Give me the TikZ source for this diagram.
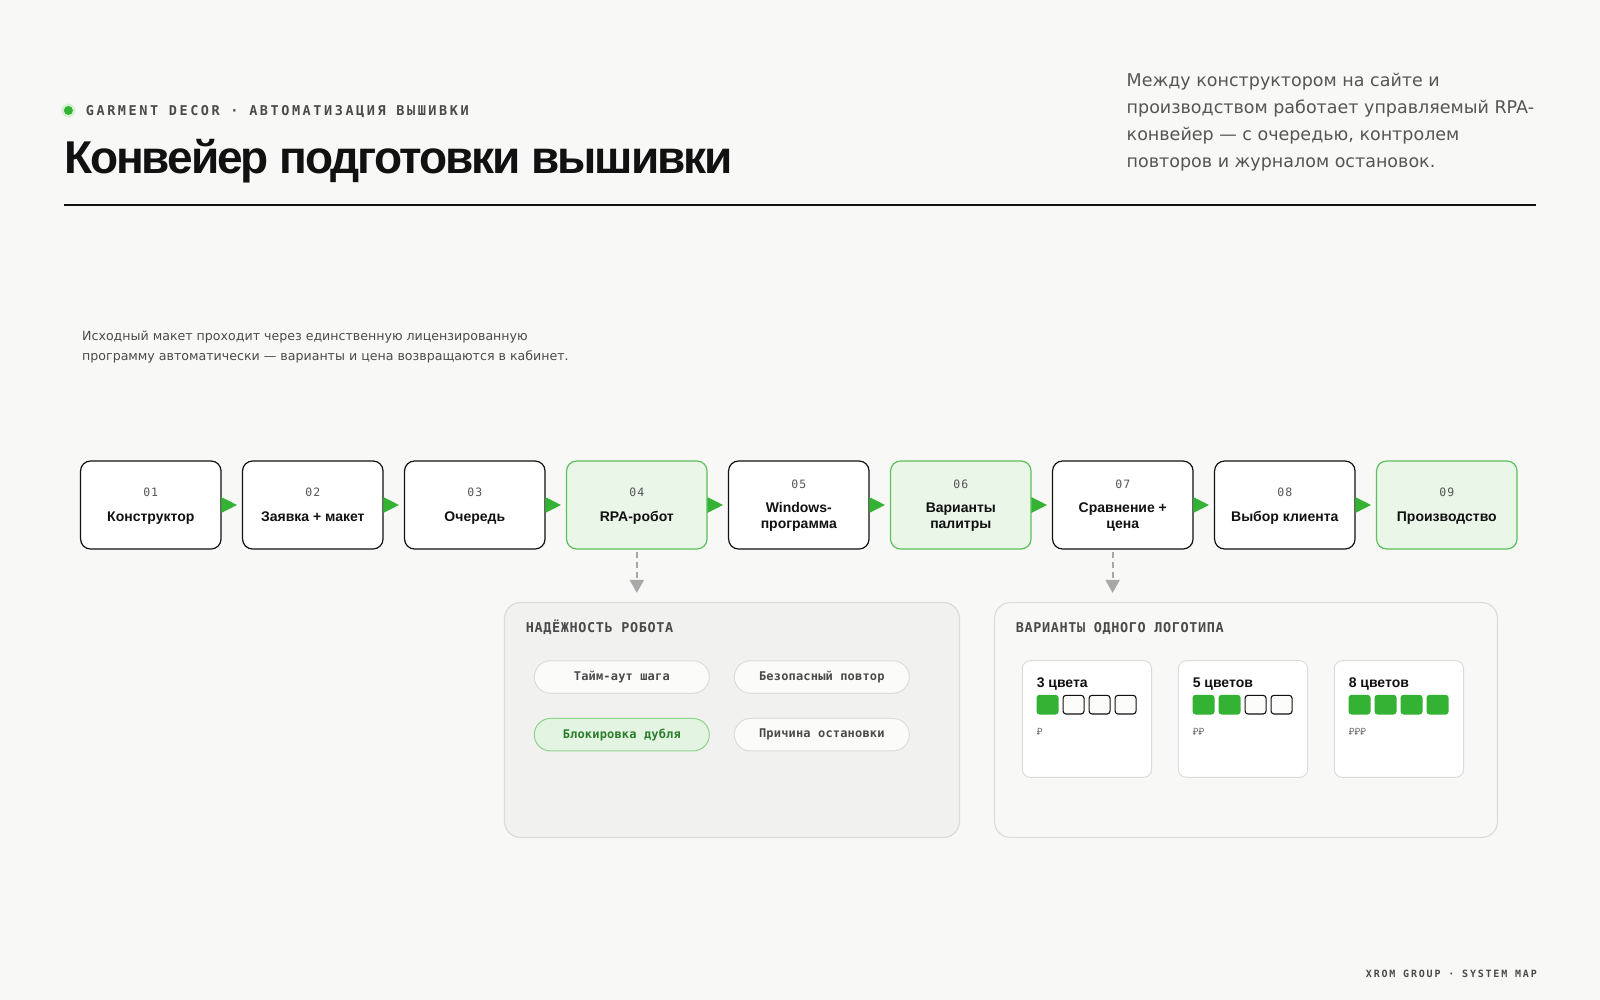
\documentclass[tikz,border=0pt]{standalone}
\usepackage{fontspec}
\setmainfont{Liberation Sans}
\newfontfamily\titlefont[LetterSpace=-4.5]{Liberation Sans}
\newfontfamily\bodyfont{DejaVu Sans}
\newfontfamily\kickfont[LetterSpace=19]{DejaVu Sans Mono}
\newfontfamily\panelfont[LetterSpace=4.5]{DejaVu Sans Mono}
\newfontfamily\numfont[LetterSpace=8]{DejaVu Sans Mono}
\newfontfamily\pillfont[LetterSpace=1.5]{DejaVu Sans Mono}
\newfontfamily\footfont[LetterSpace=18]{DejaVu Sans Mono}
\newfontfamily\rubfont{Noto Sans}
\usetikzlibrary{arrows.meta,calc}
\definecolor{bgc}{HTML}{F8F8F6}
\definecolor{ink}{HTML}{111111}
\definecolor{txtgray}{HTML}{4A4A4A}
\definecolor{bodygray}{HTML}{555555}
\definecolor{gGreen}{HTML}{34B233}
\definecolor{gHalo}{HTML}{D6F0D4}
\definecolor{gBorder}{HTML}{5CC05A}
\definecolor{gFill}{HTML}{E9F6E8}
\definecolor{pBorder}{HTML}{8FD38A}
\definecolor{pFill}{HTML}{E4F4E2}
\definecolor{pText}{HTML}{2B7D2B}
\definecolor{lineGray}{HTML}{DCDCDA}
\definecolor{panelFill}{HTML}{F1F1F0}
\definecolor{arrGray}{HTML}{A8A8A8}
\definecolor{priceGray}{HTML}{777777}
\newcommand{\stepone}[5]{%
  \node[#3] (#1) at (#2,505) {};
  \node[numlbl, anchor=base] (#1n) at ($(#1.center)+(0,-8.1)$) {#4};
  \node[steplbl, anchor=base] (#1t) at ($(#1.center)+(0,16)$) {#5};
}
\newcommand{\steptwo}[6]{%
  \node[#3] (#1) at (#2,505) {};
  \node[numlbl, anchor=base] (#1n) at ($(#1.center)+(0,-16.5)$) {#4};
  \node[steplbl, anchor=base] (#1t) at ($(#1.center)+(0,7.6)$) {#5};
  \node[steplbl, anchor=base] (#1u) at ($(#1.center)+(0,23)$) {#6};
}
\begin{document}
\begin{tikzpicture}[x=1pt,y=-1pt,
  stepbox/.style={draw=ink, line width=1.2pt, rounded corners=10pt, fill=white,
    minimum width=140.5pt, minimum height=88pt, inner sep=0pt},
  stepgreen/.style={stepbox, draw=gBorder, fill=gFill},
  numlbl/.style={inner sep=0pt, font=\numfont\fontsize{11.5}{13}\selectfont, text=bodygray},
  steplbl/.style={inner sep=0pt, font=\bfseries\fontsize{14}{16}\selectfont, text=ink},
  flow/.style={draw=gGreen, line width=0.8pt, -{Triangle[length=15.5pt,width=15.5pt]}, shorten >=5pt},
  dasharrow/.style={draw=arrGray, line width=2pt, dash pattern=on 6pt off 4pt,
    -{Triangle[length=13pt,width=14pt]}, shorten >=9pt, shorten <=2pt},
  panel/.style={draw=lineGray, line width=1.2pt, rounded corners=16pt, inner sep=0pt},
  paneltitle/.style={inner sep=0pt, anchor=base west, font=\panelfont\bfseries\fontsize{13.5}{15}\selectfont, text=txtgray},
  pill/.style={draw=lineGray, line width=1pt, fill=bgc!60!white, rounded corners=16.25pt,
    minimum width=175pt, minimum height=32.5pt, inner sep=0pt,
    font=\pillfont\bfseries\fontsize{12}{14}\selectfont, text=txtgray},
  pillgreen/.style={pill, draw=pBorder, fill=pFill, text=pText},
  card/.style={draw=lineGray, line width=1pt, fill=white, rounded corners=8pt,
    minimum width=129.3pt, minimum height=116.7pt, inner sep=0pt},
  cardlbl/.style={inner sep=0pt, anchor=base west, font=\bfseries\fontsize{14}{16}\selectfont, text=ink},
  swfull/.style={fill=gGreen, rounded corners=3pt, minimum width=22pt, minimum height=19.7pt, inner sep=0pt},
  swempty/.style={draw=ink, line width=1.1pt, fill=white!60!bgc, rounded corners=3pt,
    minimum width=21pt, minimum height=18.7pt, inner sep=0pt},
  pricelbl/.style={inner sep=0pt, anchor=base west, font=\rubfont\fontsize{10}{12}\selectfont, text=priceGray},
  bodyline/.style={inner sep=0pt, anchor=base west, font=\bodyfont\fontsize{17.5}{20}\selectfont, text=bodygray},
  descline/.style={inner sep=0pt, anchor=base west, font=\bodyfont\fontsize{12.6}{15}\selectfont, text=txtgray}
]
\path[fill=bgc, use as bounding box] (0,0) rectangle (1600,1000);

% header
\node[circle, fill=gHalo, minimum size=14pt, inner sep=0pt] (halo) at (68.4,110.5) {};
\node[circle, fill=gGreen, minimum size=9pt, inner sep=0pt] (dot) at (68.4,110.5) {};
\node[inner sep=0pt, anchor=base west, font=\kickfont\bfseries\fontsize{13.5}{15}\selectfont, text=txtgray]
  (kicker) at (85.7,116) {GARMENT DECOR · АВТОМАТИЗАЦИЯ ВЫШИВКИ};
\node[inner sep=0pt, anchor=base west, font=\titlefont\bfseries\fontsize{46}{50}\selectfont, text=ink]
  (title) at (64,173.5) {Конвейер подготовки вышивки};

\node[bodyline] (r1) at (1126.5,86.7) {Между конструктором на сайте и};
\node[bodyline] (r2) at (1126.5,113.6) {производством работает управляемый RPA-};
\node[bodyline] (r3) at (1126.5,140.5) {конвейер — с очередью, контролем};
\node[bodyline] (r4) at (1126.5,167.4) {повторов и журналом остановок.};

\coordinate (ruleL) at (64.3,205);
\coordinate (ruleR) at (1535.7,205);
\draw[ink, line width=1.3pt] (ruleL) -- (ruleR);

\node[descline] (d1) at (82,340.7) {Исходный макет проходит через единственную лицензированную};
\node[descline] (d2) at (82,360) {программу автоматически — варианты и цена возвращаются в кабинет.};

% steps
\stepone{b1}{150.8}{stepbox}{01}{Конструктор}
\stepone{b2}{312.8}{stepbox}{02}{Заявка + макет}
\stepone{b3}{474.8}{stepbox}{03}{Очередь}
\stepone{b4}{636.8}{stepgreen}{04}{RPA-робот}
\steptwo{b5}{798.8}{stepbox}{05}{Windows-}{программа}
\steptwo{b6}{960.8}{stepgreen}{06}{Варианты}{палитры}
\steptwo{b7}{1122.8}{stepbox}{07}{Сравнение +}{цена}
\stepone{b8}{1284.8}{stepbox}{08}{Выбор клиента}
\stepone{b9}{1446.8}{stepgreen}{09}{Производство}

\draw[flow] (b1.east) -- (b2.west);
\draw[flow] (b2.east) -- (b3.west);
\draw[flow] (b3.east) -- (b4.west);
\draw[flow] (b4.east) -- (b5.west);
\draw[flow] (b5.east) -- (b6.west);
\draw[flow] (b6.east) -- (b7.west);
\draw[flow] (b7.east) -- (b8.west);
\draw[flow] (b8.east) -- (b9.west);

% panels
\node[panel, fill=panelFill, minimum width=455pt, minimum height=235pt] (pL) at (732,720) {};
\node[panel, fill=bgc, minimum width=503pt, minimum height=235pt] (pR) at (1246,720) {};

\draw[dasharrow] (b4.south) -- (b4.south |- pL.north);
\coordinate (r7) at ($(b7.south)+(-10.2,0)$);
\draw[dasharrow] (r7) -- (r7 |- pR.north);

\node[paneltitle] (tL) at (525.7,632.3) {НАДЁЖНОСТЬ РОБОТА};
\node[paneltitle] (tR) at (1015.7,632.3) {ВАРИАНТЫ ОДНОГО ЛОГОТИПА};

\node[pill] (p1) at (621.8,677) {Тайм-аут шага};
\node[pill] (p2) at (821.8,677) {Безопасный повтор};
\node[pillgreen] (p3) at (621.8,734.7) {Блокировка дубля};
\node[pill] (p4) at (821.8,734.7) {Причина остановки};

% cards
\foreach \i/\x/\lab/\n/\price in {1/1087/3 цвета/1/₽, 2/1243/5 цветов/2/₽₽, 3/1399/8 цветов/4/₽₽₽} {
  \node[card] (c\i) at (\x,719) {};
  \node[cardlbl] (c\i l) at ($(c\i.north west)+(14.7,27)$) {\lab};
  \foreach \j in {1,2,3,4} {
    \ifnum\j>\n\def\swsty{swempty}\else\def\swsty{swfull}\fi
    \node[\swsty] (s\i\j) at ($(c\i.north west)+(25.7+26*\j-26,44.5)$) {};
  }
  \node[pricelbl] (c\i p) at ($(c\i.north west)+(14.7,75.5)$) {\price};
}

% footer
\node[inner sep=0pt, anchor=base east, font=\footfont\bfseries\fontsize{10}{12}\selectfont, text=txtgray]
  (foot) at (1537,977) {XROM GROUP · SYSTEM MAP};
\end{tikzpicture}
\end{document}
